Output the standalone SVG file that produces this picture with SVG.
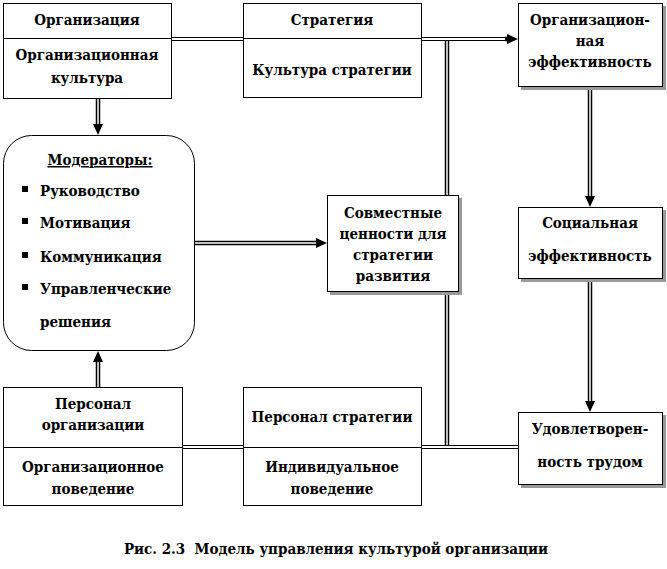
<svg xmlns="http://www.w3.org/2000/svg" width="667" height="569" viewBox="0 0 667 569">
<style>
  .box{fill:#fff;stroke:#000;stroke-width:1}
  .sh{fill:#999}
  .div{stroke:#000;stroke-width:1}
  .t{font-family:'DejaVu Serif Condensed','DejaVu Serif','Liberation Serif',serif;font-stretch:condensed;font-weight:bold;font-size:15px;fill:#000}
  .c{text-anchor:middle}
  .outer{fill:none;stroke:#000;stroke-width:4.5}
  .inner{fill:none;stroke:#fff;stroke-width:1.5}
  .thin{fill:none;stroke:#000;stroke-width:1}
</style>
<defs>
  <marker id="ah" markerUnits="userSpaceOnUse" markerWidth="12" markerHeight="12" refX="0" refY="5" orient="auto">
    <path d="M0,0 L11,5 L0,10 z" fill="#000"/>
  </marker>
</defs>
<rect width="667" height="569" fill="#fff"/>

<g id="connectors">
  <path class="thin" d="M172,37.5 H243 M172,40.5 H243"/>
  <path class="thin" d="M422,37.5 H507 M422,40.5 H507"/>
  <path d="M505,39 H507" class="outer" marker-end="url(#ah)"/>
  <path class="outer" d="M447,41 V446"/>
  <path class="inner" d="M447,41 V446"/>
  <path class="thin" d="M183,445.5 H243 M183,448.5 H243"/>
  <path class="thin" d="M422,445.5 H518 M422,448.5 H518"/>
  <path class="outer" d="M98,99 V124" marker-end="url(#ah)"/>
  <path class="inner" d="M98,99 V124"/>
  <path class="outer" d="M98,387 V362" marker-end="url(#ah)"/>
  <path class="inner" d="M98,387 V362"/>
  <path class="outer" d="M195,243 H316" marker-end="url(#ah)"/>
  <path class="inner" d="M195,243 H316"/>
  <path class="outer" d="M590,88 V196" marker-end="url(#ah)"/>
  <path class="inner" d="M590,88 V196"/>
  <path class="outer" d="M590,280 V401" marker-end="url(#ah)"/>
  <path class="inner" d="M590,280 V401"/>
</g>

<g id="n-organization" class="t">
  <rect class="box" x="3.5" y="3.5" width="168" height="95"/>
  <line class="div" x1="3.5" y1="38.5" x2="171.5" y2="38.5"/>
  <text class="c" x="87" y="25">Организация</text>
  <text class="c" x="87" y="60">Организационная</text>
  <text class="c" x="87" y="83">культура</text>
</g>

<g id="n-strategy" class="t">
  <rect class="box" x="243.5" y="3.5" width="178" height="94"/>
  <line class="div" x1="243.5" y1="38.5" x2="421.5" y2="38.5"/>
  <text class="c" x="332" y="25">Стратегия</text>
  <text class="c" x="332" y="75">Культура стратегии</text>
</g>

<g id="n-org-effectiveness" class="t">
  <rect class="sh" x="521" y="6" width="145" height="84"/>
  <rect class="box" x="518.5" y="3.5" width="144" height="83"/>
  <text class="c" x="590" y="25">Организацион-</text>
  <text class="c" x="590" y="46">ная</text>
  <text class="c" x="590" y="67">эффективность</text>
</g>

<g id="n-moderators" class="t">
  <rect class="box" x="3.5" y="135.5" width="191" height="215" rx="28" ry="28"/>
  <text class="c" x="100" y="165" text-decoration="underline">Модераторы:</text>
  <rect x="22" y="186" width="6" height="6" fill="#000"/>
  <text x="40" y="196">Руководство</text>
  <rect x="22" y="218" width="6" height="6" fill="#000"/>
  <text x="40" y="228">Мотивация</text>
  <rect x="22" y="252" width="6" height="6" fill="#000"/>
  <text x="40" y="262">Коммуникация</text>
  <rect x="22" y="284" width="6" height="6" fill="#000"/>
  <text x="40" y="294">Управленческие</text>
  <text x="40" y="327">решения</text>
</g>

<g id="n-shared-values" class="t">
  <rect class="sh" x="330" y="198" width="132" height="97"/>
  <rect class="box" x="327.5" y="195.5" width="131" height="96"/>
  <text class="c" x="393" y="218">Совместные</text>
  <text class="c" x="393" y="239">ценности для</text>
  <text class="c" x="393" y="260">стратегии</text>
  <text class="c" x="393" y="281">развития</text>
</g>

<g id="n-social-effectiveness" class="t">
  <rect class="sh" x="521" y="210" width="145" height="72"/>
  <rect class="box" x="518.5" y="207.5" width="144" height="71"/>
  <text class="c" x="590" y="228">Социальная</text>
  <text class="c" x="590" y="261">эффективность</text>
</g>

<g id="n-satisfaction" class="t">
  <rect class="sh" x="521" y="415" width="145" height="73"/>
  <rect class="box" x="518.5" y="412.5" width="144" height="72"/>
  <text class="c" x="590" y="434">Удовлетворен-</text>
  <text class="c" x="590" y="467">ность трудом</text>
</g>

<g id="n-personnel-org" class="t">
  <rect class="box" x="3.5" y="387.5" width="179" height="118"/>
  <line class="div" x1="3.5" y1="447.5" x2="182.5" y2="447.5"/>
  <text class="c" x="93" y="409">Персонал</text>
  <text class="c" x="93" y="430">организации</text>
  <text class="c" x="93" y="472">Организационное</text>
  <text class="c" x="93" y="494">поведение</text>
</g>

<g id="n-personnel-strategy" class="t">
  <rect class="box" x="243.5" y="387.5" width="178" height="118"/>
  <line class="div" x1="243.5" y1="447.5" x2="421.5" y2="447.5"/>
  <text class="c" x="332" y="422">Персонал стратегии</text>
  <text class="c" x="332" y="472">Индивидуальное</text>
  <text class="c" x="332" y="494">поведение</text>
</g>

<g id="caption" class="t">
  <text class="c" x="336" y="554" xml:space="preserve">Рис. 2.3  Модель управления культурой организации</text>
</g>
</svg>
